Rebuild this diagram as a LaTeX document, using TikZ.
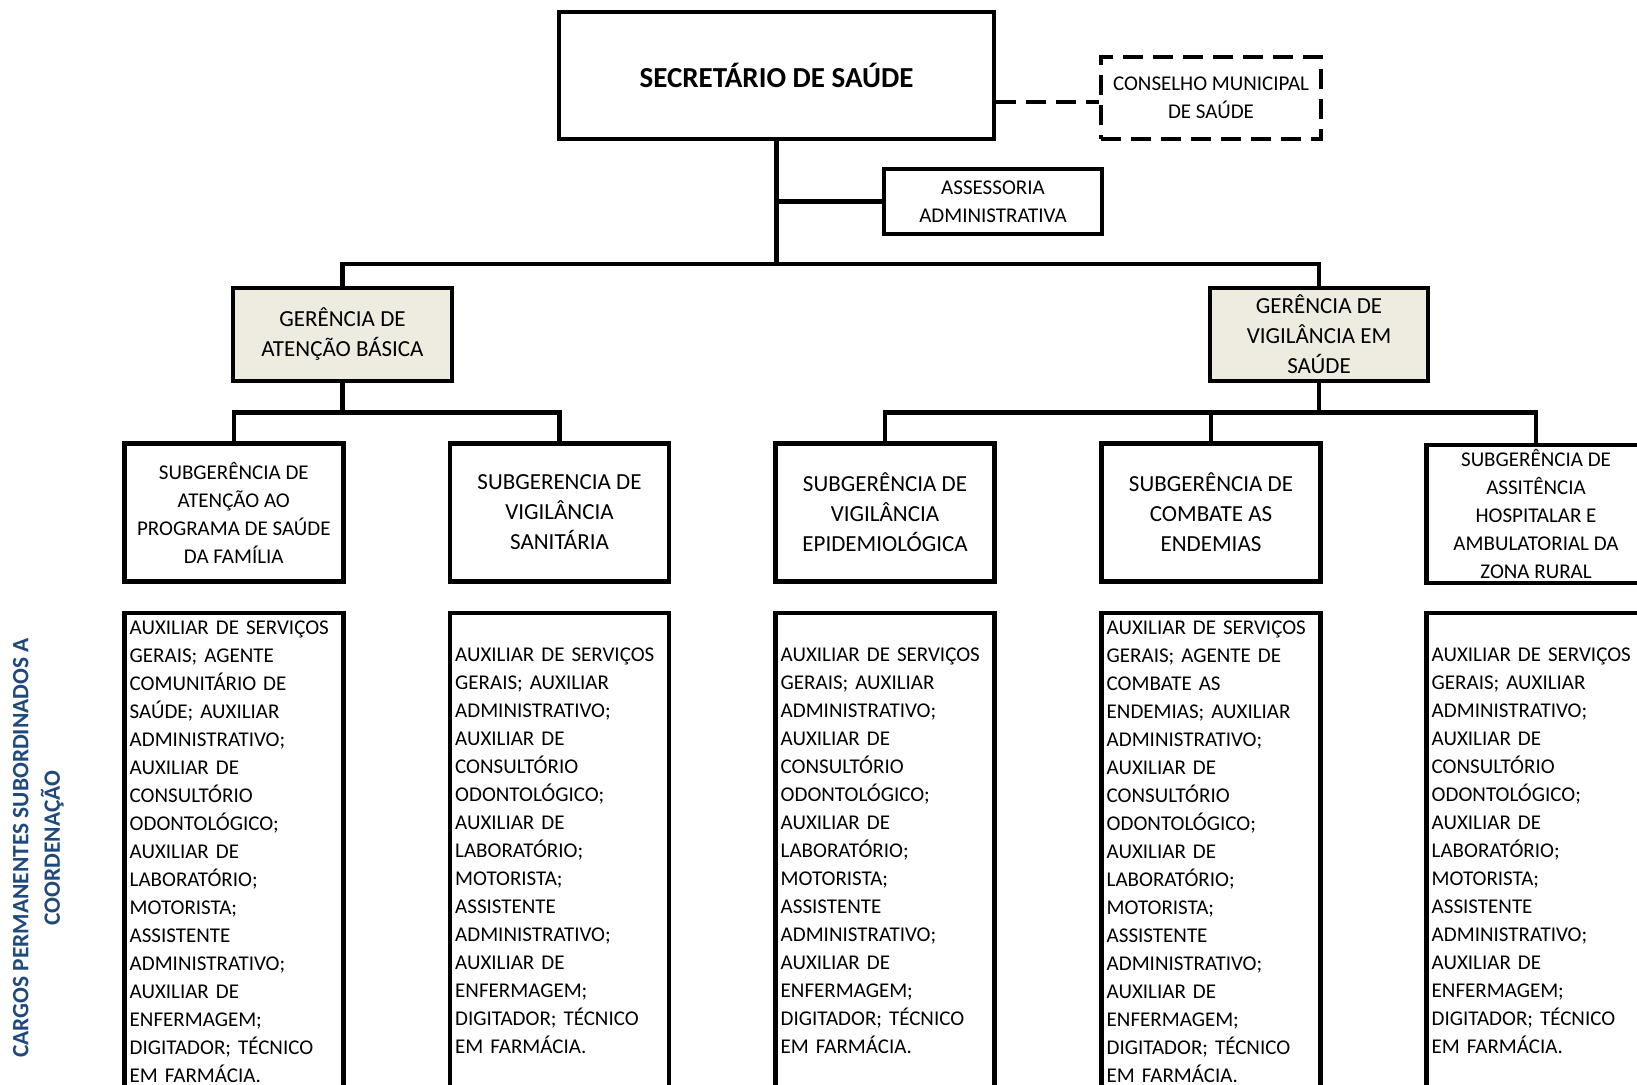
\documentclass[tikz,border=0pt]{standalone}
\usepackage{fontspec}
\setmainfont{Carlito}
\definecolor{tanfill}{HTML}{EEECE1}
\definecolor{labelblue}{HTML}{1F497D}
\begin{document}
\begin{tikzpicture}[x=1pt,y=-1pt,
  box/.style={draw,line width=4.5pt,inner sep=0pt,align=center,line join=miter},
  conn/.style={line width=4.5pt,line join=miter},
  dashconn/.style={line width=4.5pt,dash pattern=on 20pt off 10pt},
  txtA/.style={font=\fontsize{21}{28}\selectfont},
  txtB/.style={font=\fontsize{23}{30}\selectfont},
  listtxt/.style={font=\fontsize{21}{28}\selectfont,anchor=base west,inner sep=0pt,text width=212pt,align=left},
  subbox/.style={box,minimum width=219pt,minimum height=138pt},
  listbox/.style={draw,line width=4.5pt,inner sep=0pt,minimum width=219pt,minimum height=520pt}]
\useasboundingbox (0,0) rectangle (1637,1084);
\clip (0,0) rectangle (1637,1084);
\fill[white] (0,0) rectangle (1637,1084);

% top level
\node[box,minimum width=435pt,minimum height=127pt,font=\fontsize{29}{35}\selectfont\bfseries] (sec) at (776.5,75.5) {SECRETÁRIO DE SAÚDE};
\node[box,txtA,minimum width=220pt,minimum height=82pt,dash pattern=on 20pt off 10pt] (cons) at (1211,98) {CONSELHO MUNICIPAL\\DE SAÚDE};
\node[box,txtA,minimum width=218pt,minimum height=65pt] (ass) at (993,201.5) {ASSESSORIA\\ADMINISTRATIVA};

% managers
\node[box,txtB,fill=tanfill,minimum width=219pt,minimum height=93pt] (gab) at (342.5,334.5) {GERÊNCIA DE\\ATENÇÃO BÁSICA};
\node[box,txtB,fill=tanfill,minimum width=218pt,minimum height=93pt] (gvs) at (1319,334.5) {GERÊNCIA DE\\VIGILÂNCIA EM\\SAÚDE};

% sub-managers
\node[subbox,txtA] (s1) at (233.8,512.6) {SUBGERÊNCIA DE\\ATENÇÃO AO\\PROGRAMA DE SAÚDE\\DA FAMÍLIA};
\node[subbox,txtB] (s2) at (559.5,512.6) {SUBGERENCIA DE\\VIGILÂNCIA\\SANITÁRIA};
\node[subbox,txtB] (s3) at (885,512.6) {SUBGERÊNCIA DE\\VIGILÂNCIA\\EPIDEMIOLÓGICA};
\node[subbox,txtB] (s4) at (1211,512.6) {SUBGERÊNCIA DE\\COMBATE AS\\ENDEMIAS};
\node[subbox,txtA] (s5) at (1536,514) {SUBGERÊNCIA DE\\ASSITÊNCIA\\HOSPITALAR E\\AMBULATORIAL DA\\ZONA RURAL};

% staff boxes
\node[listbox] (c1) at (233.8,873) {};
\node[listbox] (c2) at (559.5,873) {};
\node[listbox] (c3) at (885,873) {};
\node[listbox] (c4) at (1211,873) {};
\node[listbox] (c5) at (1536,873) {};

\node[listtxt] (t1) at (129.5,634) {AUXILIAR DE SERVIÇOS\\GERAIS; AGENTE\\COMUNITÁRIO DE\\SAÚDE; AUXILIAR\\ADMINISTRATIVO;\\AUXILIAR DE\\CONSULTÓRIO\\ODONTOLÓGICO;\\AUXILIAR DE\\LABORATÓRIO;\\MOTORISTA;\\ASSISTENTE\\ADMINISTRATIVO;\\AUXILIAR DE\\ENFERMAGEM;\\DIGITADOR; TÉCNICO\\EM FARMÁCIA.};
\node[listtxt] (t2) at (455,661) {AUXILIAR DE SERVIÇOS\\GERAIS; AUXILIAR\\ADMINISTRATIVO;\\AUXILIAR DE\\CONSULTÓRIO\\ODONTOLÓGICO;\\AUXILIAR DE\\LABORATÓRIO;\\MOTORISTA;\\ASSISTENTE\\ADMINISTRATIVO;\\AUXILIAR DE\\ENFERMAGEM;\\DIGITADOR; TÉCNICO\\EM FARMÁCIA.};
\node[listtxt] (t3) at (780.5,661) {AUXILIAR DE SERVIÇOS\\GERAIS; AUXILIAR\\ADMINISTRATIVO;\\AUXILIAR DE\\CONSULTÓRIO\\ODONTOLÓGICO;\\AUXILIAR DE\\LABORATÓRIO;\\MOTORISTA;\\ASSISTENTE\\ADMINISTRATIVO;\\AUXILIAR DE\\ENFERMAGEM;\\DIGITADOR; TÉCNICO\\EM FARMÁCIA.};
\node[listtxt] (t4) at (1106.5,634) {AUXILIAR DE SERVIÇOS\\GERAIS; AGENTE DE\\COMBATE AS\\ENDEMIAS; AUXILIAR\\ADMINISTRATIVO;\\AUXILIAR DE\\CONSULTÓRIO\\ODONTOLÓGICO;\\AUXILIAR DE\\LABORATÓRIO;\\MOTORISTA;\\ASSISTENTE\\ADMINISTRATIVO;\\AUXILIAR DE\\ENFERMAGEM;\\DIGITADOR; TÉCNICO\\EM FARMÁCIA.};
\node[listtxt] (t5) at (1431.5,661) {AUXILIAR DE SERVIÇOS\\GERAIS; AUXILIAR\\ADMINISTRATIVO;\\AUXILIAR DE\\CONSULTÓRIO\\ODONTOLÓGICO;\\AUXILIAR DE\\LABORATÓRIO;\\MOTORISTA;\\ASSISTENTE\\ADMINISTRATIVO;\\AUXILIAR DE\\ENFERMAGEM;\\DIGITADOR; TÉCNICO\\EM FARMÁCIA.};

% side label
\node[rotate=90,align=center,text=labelblue,font=\fontsize{23.4}{31.5}\selectfont\bfseries] (lab) at (38.5,848) {CARGOS PERMANENTES SUBORDINADOS A\\COORDENAÇÃO};

% junctions
\coordinate (j1) at (776.5,264);
\coordinate (j2) at (342.5,412.4);
\coordinate (j3) at (1319,412.4);
\coordinate (dj) at ([yshift=-4pt]cons.west);

% connectors
\draw[dashconn] (sec.east |- dj) -- (dj);
\draw[conn] (sec.south) -- (j1);
\draw[conn] (ass.west) -- (ass.west -| sec.south);
\draw[conn] (gab.north) |- (j1) -| (gvs.north);
\draw[conn] (gab.south) -- (j2);
\draw[conn] (s1.north) |- (j2) -| (s2.north);
\draw[conn] (gvs.south) -- (j3);
\draw[conn] (s3.north) |- (j3) -| (s5.north);
\draw[conn] (s4.north |- j3) -- (s4.north);
\end{tikzpicture}
\end{document}
